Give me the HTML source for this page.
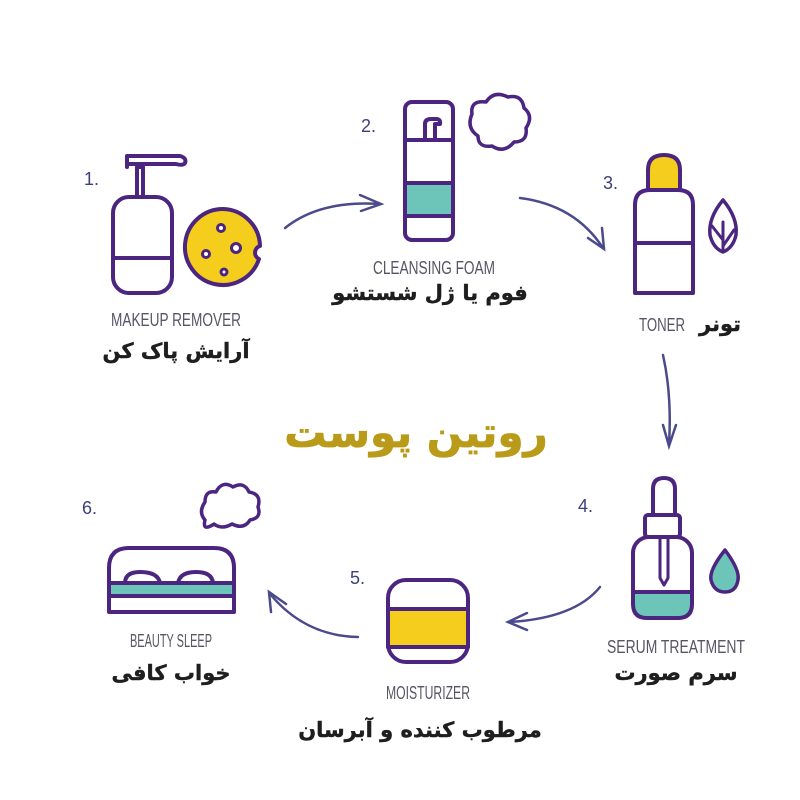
<!DOCTYPE html>
<html><head><meta charset="utf-8"><style>
html,body{margin:0;padding:0;background:#fff;width:800px;height:800px;overflow:hidden}
svg{display:block}
</style></head><body>
<svg width="800" height="800" viewBox="0 0 800 800" xmlns="http://www.w3.org/2000/svg">
<g fill="none" stroke="#4b2580" stroke-width="4" stroke-linejoin="round" stroke-linecap="round">
<rect x="113" y="197" width="59" height="96" rx="16" fill="#fff"/>
<line x1="113" y1="258" x2="172" y2="258"/>
<path d="M137 197 V167 H143 V197"/>
<path d="M127 167 V156 H180 Q187 158 185 163 Q183 166 176 164 H127 Z" fill="#fff"/>
<path d="M223 209 A38 38 0 1 0 259 259 A7 7 0 0 1 260 246 A38 38 0 0 0 223 209 Z" fill="#f5cd1d"/>
<circle cx="221" cy="228" r="3.5" fill="#fff" stroke-width="3"/>
<circle cx="206" cy="254" r="3.5" fill="#fff" stroke-width="3"/>
<circle cx="236" cy="248" r="4.5" fill="#fff" stroke-width="3"/>
<circle cx="224" cy="272" r="3" fill="#fff" stroke-width="3"/>
<rect x="405" y="102" width="48" height="138" rx="7" fill="#fff"/>
<rect x="405" y="183" width="48" height="33" fill="#6cc5b8"/>
<line x1="405" y1="140" x2="453" y2="140"/>
<line x1="405" y1="183" x2="453" y2="183"/>
<line x1="405" y1="216" x2="453" y2="216"/>
<path d="M425 140 V124 Q425 119 431 119 H436 Q441 119 440 124 H435 V140"/>
<path d="M472 114 Q470 100 486 102 Q494 90 508 97 Q522 94 524 108 Q534 116 526 128 Q528 142 514 142 Q504 154 492 146 Q478 148 478 136 Q466 128 472 114 Z" stroke-width="3.5"/>
<path d="M648 190 V170 Q648 155 664 155 Q680 155 680 170 V190 Z" fill="#f5cd1d"/>
<path d="M635 293 V205 Q635 190 650 190 H678 Q693 190 693 205 V293 Z" fill="#fff"/>
<line x1="635" y1="243" x2="693" y2="243"/>
<path d="M723 200 Q708 218 710 235 Q713 248 723 252 Q733 248 736 235 Q738 218 723 200 Z" stroke-width="3.5"/>
<path d="M723 252 V222 M712 226 L723 240 M734 230 L723 246" stroke-width="3"/>
<rect x="633" y="537" width="59" height="81" rx="16" fill="#fff"/>
<path d="M633 592 H692 V604 Q692 618 678 618 H647 Q633 618 633 604 Z" fill="#6cc5b8"/>
<line x1="633" y1="592" x2="692" y2="592"/>
<path d="M653 515 V489 Q653 478 664 478 Q675 478 675 489 V515"/>
<rect x="645" y="515" width="35" height="22" rx="3" fill="#fff"/>
<path d="M660 537 V578 L664 585 L668 578 V537" stroke-width="3"/>
<path d="M725 550 Q709 570 711 580 Q714 592 725 592 Q736 592 738 580 Q740 570 725 550 Z" fill="#6cc5b8" stroke-width="3.5"/>
<rect x="388" y="580" width="80" height="82" rx="18" fill="#fff"/>
<rect x="388" y="609" width="80" height="38" fill="#f5cd1d"/>
<line x1="388" y1="609" x2="468" y2="609"/>
<line x1="388" y1="647" x2="468" y2="647"/>
<path d="M109 612 V568 Q109 548 129 548 H214 Q234 548 234 568 V612 Z" fill="#fff"/>
<path d="M125 583 Q125 572 140 572 Q158 572 160 583 M178 583 Q180 572 196 572 Q212 572 213 583"/>
<rect x="109" y="583" width="125" height="13" fill="#6cc5b8"/>
<line x1="109" y1="583" x2="234" y2="583"/>
<line x1="109" y1="596" x2="234" y2="596"/>
<path d="M205 502 Q205 490 216 492 Q222 480 233 487 Q244 481 249 492 Q262 494 258 507 Q262 518 250 520 Q244 530 232 524 Q222 530 214 524 Q202 532 205 520 Q198 512 205 502 Z" stroke-width="3.5"/>
</g>
<g fill="none" stroke="#4a4a8c" stroke-width="2.5" stroke-linecap="round">
<path d="M285 228 Q320 200 380 204"/><path d="M360 195 L381 204 L361 211"/>
<path d="M520 198 Q575 205 603 248"/><path d="M602 228 L604 249 L588 238"/>
<path d="M663 355 Q672 395 669 445"/><path d="M663 425 L669 446 L676 425"/>
<path d="M600 587 Q575 618 510 622"/><path d="M527 613 L508 622 L527 630"/>
<path d="M358 637 Q305 636 270 594"/><path d="M271 612 L269 592 L286 604"/>
</g>
<g font-family="'Liberation Sans',sans-serif" font-size="18" fill="#3d3f7a">
<text x="84" y="185">1.</text>
<text x="361" y="132">2.</text>
<text x="603" y="189">3.</text>
<text x="578" y="512">4.</text>
<text x="350" y="584">5.</text>
<text x="82" y="514">6.</text>
</g>
<g font-family="'Liberation Sans Narrow','Liberation Sans',sans-serif" font-size="18" fill="#555566" text-anchor="middle">
<text x="176" y="326" textLength="130" lengthAdjust="spacingAndGlyphs">MAKEUP REMOVER</text>
<text x="434" y="274" textLength="122" lengthAdjust="spacingAndGlyphs">CLEANSING FOAM</text>
<text x="662" y="331" textLength="46" lengthAdjust="spacingAndGlyphs">TONER</text>
<text x="676" y="653" textLength="138" lengthAdjust="spacingAndGlyphs">SERUM TREATMENT</text>
<text x="428" y="699" textLength="84" lengthAdjust="spacingAndGlyphs">MOISTURIZER</text>
<text x="171" y="647" textLength="82" lengthAdjust="spacingAndGlyphs">BEAUTY SLEEP</text>
</g>
<g font-family="'DejaVu Sans','Liberation Sans',sans-serif" font-weight="bold" font-size="21" fill="#1e1e1e" text-anchor="middle" direction="rtl" stroke="#1e1e1e" stroke-width="0.4">
<text x="176" y="358">آرایش پاک کن</text>
<text x="430" y="300">فوم یا ژل شستشو</text>
<text x="720" y="331">تونر</text>
<text x="676" y="680">سرم صورت</text>
<text x="420" y="737">مرطوب کننده و آبرسان</text>
<text x="171" y="680">خواب کافی</text>
<text x="416" y="447" font-size="42" fill="#b99b19" stroke="#b99b19" stroke-width="0.8">روتین پوست</text>
</g>
</svg>
</body></html>
